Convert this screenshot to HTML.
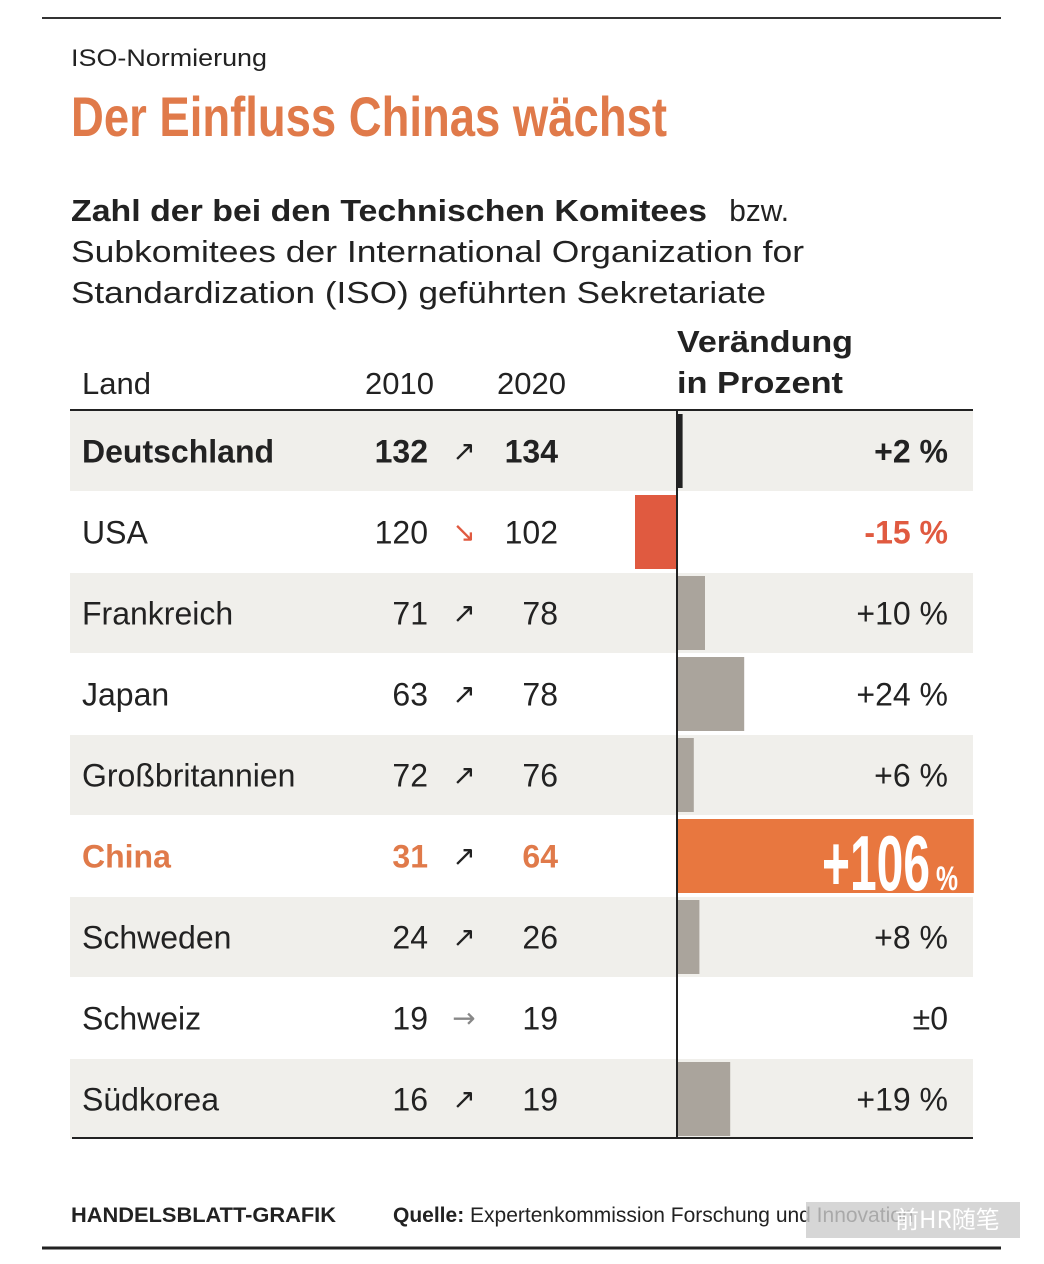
<!DOCTYPE html>
<html><head><meta charset="utf-8">
<style>
html,body{margin:0;padding:0;background:#fff;}
svg{display:block;font-family:"Liberation Sans","DejaVu Sans",sans-serif;}
</style></head>
<body>
<svg id="chart" width="1044" height="1264" viewBox="0 0 1044 1264" xmlns="http://www.w3.org/2000/svg">
<line x1="42" y1="18" x2="1001" y2="18" stroke="#333" stroke-width="2"/>
<text x="71" y="66" font-size="24" fill="#222" textLength="196" lengthAdjust="spacingAndGlyphs">ISO-Normierung</text>
<text x="71" y="136" font-size="56" font-weight="bold" fill="#e07a4a" textLength="596" lengthAdjust="spacingAndGlyphs">Der Einfluss Chinas wächst</text>
<text x="71" y="221" font-size="31" fill="#222"><tspan font-weight="bold" textLength="636" lengthAdjust="spacingAndGlyphs">Zahl der bei den Technischen Komitees</tspan><tspan x="721" textLength="68" lengthAdjust="spacingAndGlyphs"> bzw.</tspan></text>
<text x="71" y="262" font-size="31" fill="#222" textLength="733" lengthAdjust="spacingAndGlyphs">Subkomitees der International Organization for</text>
<text x="71" y="303" font-size="31" fill="#222" textLength="695" lengthAdjust="spacingAndGlyphs">Standardization (ISO) geführten Sekretariate</text>
<text x="82" y="394" font-size="31" fill="#222">Land</text>
<text x="434" y="394" font-size="31" fill="#222" text-anchor="end">2010</text>
<text x="566" y="394" font-size="31" fill="#222" text-anchor="end">2020</text>
<text x="677" y="352" font-size="31" font-weight="bold" fill="#222" textLength="176" lengthAdjust="spacingAndGlyphs">Verändung</text>
<text x="677" y="393" font-size="31" font-weight="bold" fill="#222" textLength="166" lengthAdjust="spacingAndGlyphs">in Prozent</text>
<g id="rows"></g>
<line x1="70" y1="410" x2="973" y2="410" stroke="#222" stroke-width="2"/>
<line x1="72" y1="1138" x2="973" y2="1138" stroke="#222" stroke-width="2"/>
<line id="axis" x1="677" y1="410" x2="677" y2="1138" stroke="#222" stroke-width="2"/>
<text x="71" y="1222" font-size="21" font-weight="bold" fill="#222" textLength="265" lengthAdjust="spacingAndGlyphs">HANDELSBLATT-GRAFIK</text>
<text x="393" y="1222" font-size="21" fill="#222"><tspan font-weight="bold">Quelle:</tspan> Expertenkommission Forschung und Innovation</text>
<rect x="806" y="1202" width="214" height="36" fill="#ccc" opacity="0.8"/>
<text x="895" y="1228" font-size="24" fill="#fff" font-family="'Noto Sans CJK SC',sans-serif">前HR随笔</text>
<line x1="42" y1="1248" x2="1001" y2="1248" stroke="#222" stroke-width="3"/>
</svg>
<script>
const countries = ["Deutschland","USA","Frankreich","Japan","Großbritannien","China","Schweden","Schweiz","Südkorea"];
const values2010 = [132,120,71,63,72,31,24,19,16];
const values2020 = [134,102,78,78,76,64,26,19,19];
const changePct = [2,-15,10,24,6,106,8,0,19];
const changeLabels = ["+2 %","-15 %","+10 %","+24 %","+6 %","+106 %","+8 %","±0","+19 %"];

const NS="http://www.w3.org/2000/svg";
const g=document.getElementById('rows');
const top0=410, rowH=81, zeroX=677, pxPerPct=2.8;
const xScale=v=>zeroX+v*pxPerPct;
function mk(tag,attrs){const e=document.createElementNS(NS,tag);for(const k in attrs)e.setAttribute(k,attrs[k]);g.appendChild(e);return e;}
countries.forEach((c,i)=>{
  const y=top0+i*rowH;
  const isDE=i===0, isCN=c==="China";
  if(i%2===0){const r=mk('rect',{x:70,y:y+1,width:903,height:rowH-1,fill:"#f0efeb"});
    
    }
  const v=changePct[i];
  if(v!==0){
    const x0=Math.min(xScale(0),xScale(v)), w=Math.abs(xScale(v)-xScale(0));
    const fill=isCN?"#e8773f":(v<0?"#e05a40":(isDE?"#222":"#aaa49c"));
    const b=mk('rect',{x:x0,y:y+4,width:Math.max(w,isDE?3:w),height:rowH-7,fill:fill});
    
    
  }
  const col=isCN?"#e07a4a":"#222";
  const wt=(isDE||isCN)?"bold":"normal";
  const ty=y+rowH/2+12;
  const t=mk('text',{x:82,y:ty,"font-size":32,fill:col,"font-weight":wt});t.textContent=c;
  
  
  const a=mk('text',{x:428,y:ty,"font-size":32,fill:col,"font-weight":wt,"text-anchor":"end"});a.textContent=values2010[i];
  
  
  const d=values2020[i]-values2010[i];
  const arrow=d>0?"↗":(d<0?"↘":"→");
  const ar=mk('text',{x:464,y:ty-2,"font-size":28,fill:d<0?"#e05a40":(d===0?"#888":"#222"),"text-anchor":"middle","font-family":"DejaVu Sans"});ar.textContent=arrow;
  
  
  const b2=mk('text',{x:558,y:ty,"font-size":32,fill:col,"font-weight":wt,"text-anchor":"end"});b2.textContent=values2020[i];
  
  
  let p;
  if(isCN){
    p=mk('text',{x:822,y:y+rowH-6,"font-size":78,fill:"#fff","font-weight":"bold"});
    p.innerHTML='<tspan textLength="108" lengthAdjust="spacingAndGlyphs">+106</tspan><tspan font-size="34" dx="6" textLength="22" lengthAdjust="spacingAndGlyphs">%</tspan>';
  } else {
    p=mk('text',{x:948,y:ty,"font-size":32,fill:v<0?"#e05a40":"#222","font-weight":(isDE||v<0)?"bold":"normal","text-anchor":"end"});
    p.textContent=changeLabels[i];
  }
  
  
});
</script>
</body></html>
